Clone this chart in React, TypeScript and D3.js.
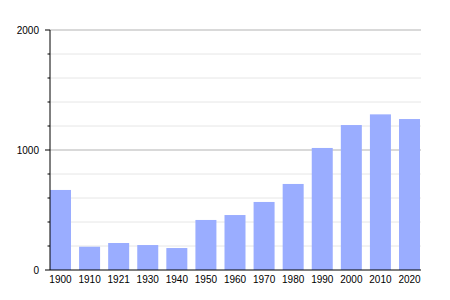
import React from "react";
import * as d3 from "d3";

const years = ["1900", "1910", "1921", "1930", "1940", "1950", "1960", "1970", "1980", "1990", "2000", "2010", "2020"];
const population = [667, 194, 225, 208, 183, 417, 458, 567, 717, 1017, 1208, 1297, 1258];
const majorTicks = [0, 1000, 2000];
const minorTicks = [200, 400, 600, 800, 1200, 1400, 1600, 1800];

export default function App() {
  const W = 450, H = 300;
  const left = 50, right = 421, top = 30, bottom = 270;
  const x = d3.scaleBand<string>().domain(years).range([left, 420]).paddingInner(0.278).paddingOuter(0).align(0);
  const y = d3.scaleLinear().domain([0, 2000]).range([bottom, top]);
  const font = "Liberation Sans, Arial, sans-serif";
  return (
    <svg width={W} height={H} style={{ position: "absolute", left: 0, top: 0 }}>
      <rect x={0} y={0} width={W} height={H} fill="#fff" />
      {minorTicks.map((t) => (
        <line key={"g" + t} x1={left} x2={right} y1={y(t)} y2={y(t)} stroke="#e6e6e6" strokeWidth={1} />
      ))}
      {majorTicks.filter((t) => t > 0).map((t) => (
        <line key={"G" + t} x1={left} x2={right} y1={y(t)} y2={y(t)} stroke="#b3b3b3" strokeWidth={1} />
      ))}
      {years.map((yr, i) => (
        <rect key={yr} x={x(yr)} y={y(population[i])} width={x.bandwidth()} height={bottom - y(population[i])} fill="#9aadff" />
      ))}
      <line x1={left} x2={left} y1={top} y2={bottom} stroke="#000" strokeWidth={1} />
      <line x1={left} x2={right} y1={bottom} y2={bottom} stroke="#000" strokeWidth={1} />
      {minorTicks.map((t) => (
        <line key={"m" + t} x1={left - 2.5} x2={left} y1={y(t)} y2={y(t)} stroke="#000" strokeWidth={1} />
      ))}
      {majorTicks.map((t) => (
        <g key={"M" + t}>
          <line x1={left - 5} x2={left} y1={y(t)} y2={y(t)} stroke="#000" strokeWidth={1} />
          <text x={39} y={y(t)} dy="0.35em" textAnchor="end" fontFamily={font} fontSize={10} fill="#000">{t}</text>
        </g>
      ))}
      {years.map((yr) => (
        <text key={"l" + yr} x={(x(yr) as number) + x.bandwidth() / 2} y={282.5} textAnchor="middle" fontFamily={font} fontSize={10} fill="#000">{yr}</text>
      ))}
    </svg>
  );
}
